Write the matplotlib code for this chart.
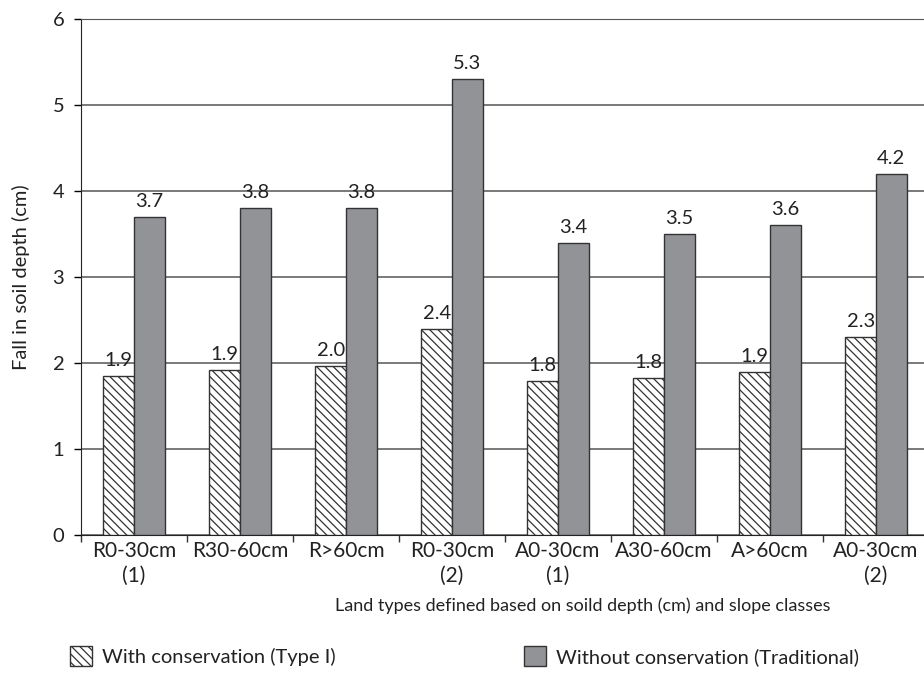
import matplotlib
matplotlib.use('Agg')
import matplotlib.pyplot as plt
import numpy as np
from matplotlib.patches import Patch

plt.rcParams['font.family'] = ['Lato', 'DejaVu Sans']
plt.rcParams['hatch.linewidth'] = 0.9

categories = ['R0-30cm\n(1)', 'R30-60cm', 'R>60cm', 'R0-30cm\n(2)',
              'A0-30cm\n(1)', 'A30-60cm', 'A>60cm', 'A0-30cm\n(2)']
with_cons = [1.85, 1.92, 1.96, 2.40, 1.79, 1.83, 1.90, 2.30]
with_labels = ['1.9', '1.9', '2.0', '2.4', '1.8', '1.8', '1.9', '2.3']
without_cons = [3.70, 3.80, 3.80, 5.30, 3.40, 3.50, 3.60, 4.20]
without_labels = ['3.7', '3.8', '3.8', '5.3', '3.4', '3.5', '3.6', '4.2']
yticks = [0, 1, 2, 3, 4, 5, 6]

fs = 14.5
gray = '#929397'
edge = '#333333'
txt = '#222222'

fig = plt.figure(figsize=(9.24, 6.79), dpi=100)
ax = fig.add_axes([81 / 924, 144 / 679, 848 / 924, 516 / 679])

x = np.arange(len(categories))
w = 0.288
b1 = ax.bar(x - w / 2, with_cons, w, color='white', edgecolor=edge,
            hatch='\\\\\\\\', linewidth=1.0, zorder=3)
b2 = ax.bar(x + w / 2, without_cons, w, color=gray, edgecolor=edge,
            linewidth=1.0, zorder=3)

for rect, lab in zip(b1, with_labels):
    ax.annotate(lab, (rect.get_x() + rect.get_width() / 2, rect.get_height()),
                xytext=(0, 5), textcoords='offset points', ha='center',
                va='bottom', fontsize=fs, color=txt)
for rect, lab in zip(b2, without_labels):
    ax.annotate(lab, (rect.get_x() + rect.get_width() / 2, rect.get_height()),
                xytext=(0, 5), textcoords='offset points', ha='center',
                va='bottom', fontsize=fs, color=txt)

ax.set_xlim(-0.5, len(categories) - 0.5)
ax.set_ylim(0, 6)
ax.set_yticks(yticks)
ax.yaxis.grid(True, color='#555555', linewidth=1.1, zorder=0)
ax.set_axisbelow(True)

ax.set_xticks(np.arange(len(categories) + 1) - 0.5)
ax.set_xticklabels([])
ax.set_xticks(x, minor=True)
ax.set_xticklabels(categories, minor=True, fontsize=15, color=txt,
                   linespacing=1.35)
ax.tick_params(axis='x', which='minor', length=0, pad=4)
ax.tick_params(axis='x', which='major', length=5, width=1, color='#333333')
ax.tick_params(axis='y', length=5, width=1, labelsize=fs, labelcolor=txt,
               pad=7)

ax.spines['right'].set_visible(False)
ax.spines['top'].set_color('#555555')
ax.spines['left'].set_color(txt)
ax.spines['bottom'].set_color(txt)

ax.set_ylabel('Fall in soil depth (cm)', fontsize=fs, color=txt,
              labelpad=16)
fig.text(583 / 924, 1 - 606 / 679,
         'Land types defined based on soild depth (cm) and slope classes',
         ha='center', va='center', fontsize=13, color=txt)

handles = [Patch(facecolor='white', edgecolor=edge, hatch='\\\\\\\\',
                 label='With conservation (Type I)'),
           Patch(facecolor=gray, edgecolor=edge,
                 label='Without conservation (Traditional)')]
fig.legend(handles=handles, loc='center left',
           bbox_to_anchor=(52 / 924, 1 - 656 / 679), ncol=2, frameon=False,
           fontsize=fs, handlelength=1.1, handleheight=1.1,
           handletextpad=0.5, columnspacing=9.35,
           labelcolor=txt)

fig.savefig('out.png', dpi=100)
